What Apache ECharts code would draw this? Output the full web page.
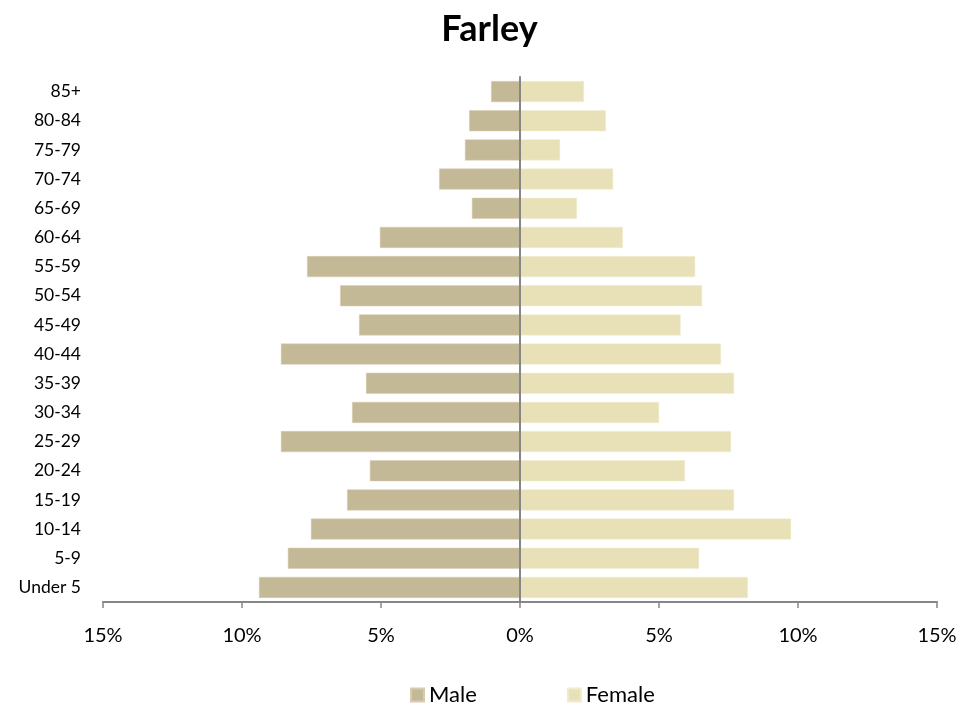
<!DOCTYPE html>
<html>
<head>
<meta charset="utf-8">
<script src="https://cdn.jsdelivr.net/npm/echarts@6/dist/echarts.min.js"></script>
<style>
  html, body { margin: 0; padding: 0; background: #fff; }
  #chart { width: 979px; height: 713px; }
</style>
</head>
<body>
<div id="chart"></div>
<script>
// age groups, bottom to top
const ageGroups = ['Under 5', '5-9', '10-14', '15-19', '20-24', '25-29', '30-34', '35-39', '40-44',
  '45-49', '50-54', '55-59', '60-64', '65-69', '70-74', '75-79', '80-84', '85+'];
// percent of population
const male = [9.39, 8.35, 7.52, 6.22, 5.4, 8.6, 6.04, 5.54, 8.6,
  5.79, 6.47, 7.66, 5.04, 1.73, 2.91, 1.98, 1.83, 1.04];
const female = [8.2, 6.44, 9.75, 7.7, 5.93, 7.59, 5.0, 7.7, 7.23,
  5.78, 6.55, 6.3, 3.7, 2.05, 3.35, 1.44, 3.09, 2.3];
const xTicks = [-15, -10, -5, 0, 5, 10, 15];

const font = 'Lato, "Open Sans", sans-serif';
const chart = echarts.init(document.getElementById('chart'));

chart.setOption({
  animation: false,
  title: {
    text: 'Farley',
    left: 'center',
    top: 6,
    textStyle: { fontFamily: font, fontSize: 36, fontWeight: 'bold', color: '#000' }
  },
  legend: {
    bottom: 2,
    left: 405,
    itemGap: 90,
    itemWidth: 13,
    itemHeight: 13,
    icon: 'rect',
    textStyle: { fontFamily: font, fontSize: 22, color: '#000' },
    data: ['Male', 'Female']
  },
  grid: { left: 103, right: 42, top: 77, bottom: 111 },
  xAxis: {
    type: 'value',
    min: xTicks[0],
    max: xTicks[xTicks.length - 1],
    interval: 5,
    axisLine: { show: true, lineStyle: { color: '#868686', width: 2 } },
    axisTick: { show: true, length: 6, lineStyle: { color: '#868686', width: 1.5 } },
    splitLine: { show: false },
    axisLabel: {
      margin: 24,
      fontFamily: font,
      fontSize: 20,
      color: '#000',
      formatter: v => Math.abs(v) + '%'
    }
  },
  yAxis: {
    type: 'category',
    data: ageGroups,
    z: 5,
    axisLine: { show: true, onZero: true, lineStyle: { color: '#868686', width: 2 } },
    axisTick: { show: false },
    axisLabel: { margin: 22, fontFamily: font, fontSize: 17.5, color: '#000' }
  },
  series: [
    {
      name: 'Male',
      type: 'bar',
      stack: 'pop',
      barCategoryGap: '28%',
      data: male.map(v => -v),
      itemStyle: { color: '#C4B996', borderColor: '#D6CDB0', borderWidth: 0.5 }
    },
    {
      name: 'Female',
      type: 'bar',
      stack: 'pop',
      barCategoryGap: '28%',
      data: female,
      itemStyle: { color: '#E8E1B7', borderColor: '#F1ECD0', borderWidth: 0.5 }
    }
  ]
});
</script>
</body>
</html>
